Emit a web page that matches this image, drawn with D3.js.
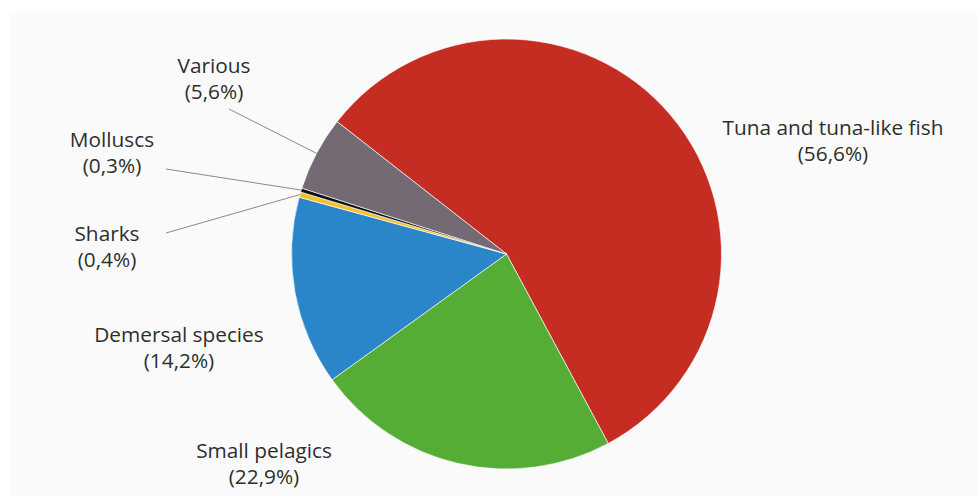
<!DOCTYPE html>
<html>
<head>
<meta charset="utf-8">
<script src="https://cdn.jsdelivr.net/npm/d3@7"></script>
<style>
  html, body { margin: 0; padding: 0; background: #fff; }
  #chart { width: 978px; height: 496px; }
  text { font-family: "Open Sans", "Noto Sans", sans-serif; }
</style>
</head>
<body>
<div id="chart"></div>
<script>
// catch shares by species group, clockwise from the top-left
const categories = ["Tuna and tuna-like fish", "Small pelagics", "Demersal species", "Sharks", "Molluscs", "Various"];
const shares = [56.6, 22.9, 14.2, 0.4, 0.3, 5.6];
const shareLabels = ["(56,6%)", "(22,9%)", "(14,2%)", "(0,4%)", "(0,3%)", "(5,6%)"];
const colors = ["#c62d22", "#55ad35", "#2a86c9", "#f2c12e", "#111111", "#736a73"];

// label anchors (centre x, baseline of first line) and leader line starts
const labelPos = [[833, 135], [264, 458], [179, 342], [107, 241], [112, 147], [214, 73]];
const leaderStart = [null, null, null, [166, 233], [166, 169], [229, 109]];
const lineGap = 26;

const W = 978, H = 496;
const cx = 506.5, cy = 254, R = 215;

const svg = d3.select("#chart").append("svg")
  .attr("width", W).attr("height", H);

// light panel behind the chart
svg.append("rect")
  .attr("x", 10).attr("y", 13)
  .attr("width", W - 10).attr("height", H - 13)
  .attr("fill", "#fafafa");

const data = categories.map((c, i) => ({ name: c, value: shares[i], label: shareLabels[i], color: colors[i], i }));

const start = -52 * Math.PI / 180;
const pie = d3.pie()
  .sort(null)
  .value(d => d.value)
  .startAngle(start)
  .endAngle(start + 2 * Math.PI);

const arcs = pie(data);
const arc = d3.arc().innerRadius(0).outerRadius(R);

const g = svg.append("g").attr("transform", `translate(${cx},${cy})`);

g.selectAll("path.slice")
  .data(arcs)
  .enter()
  .append("path")
  .attr("class", "slice")
  .attr("d", arc)
  .attr("fill", d => d.data.color)
  .attr("stroke", "#ffffff")
  .attr("stroke-opacity", 0.8)
  .attr("stroke-width", 0.8);

// leader lines from the label to the rim at each slice's mid angle
const edge = d3.arc().innerRadius(R).outerRadius(R);
svg.append("g").selectAll("line")
  .data(arcs.filter(d => leaderStart[d.data.i]))
  .enter()
  .append("line")
  .attr("x1", d => leaderStart[d.data.i][0])
  .attr("y1", d => leaderStart[d.data.i][1])
  .attr("x2", d => cx + edge.centroid(d)[0])
  .attr("y2", d => cy + edge.centroid(d)[1])
  .attr("stroke", "#8a8a8a")
  .attr("stroke-width", 1);

const labels = svg.append("g").selectAll("text")
  .data(data)
  .enter()
  .append("text")
  .attr("text-anchor", "middle")
  .attr("fill", "#2e2e2e")
  .style("font-size", "20.8px");

labels.append("tspan")
  .attr("x", d => labelPos[d.i][0])
  .attr("y", d => labelPos[d.i][1])
  .text(d => d.name);

labels.append("tspan")
  .attr("x", d => labelPos[d.i][0])
  .attr("y", d => labelPos[d.i][1] + lineGap)
  .text(d => d.label);
</script>
</body>
</html>
